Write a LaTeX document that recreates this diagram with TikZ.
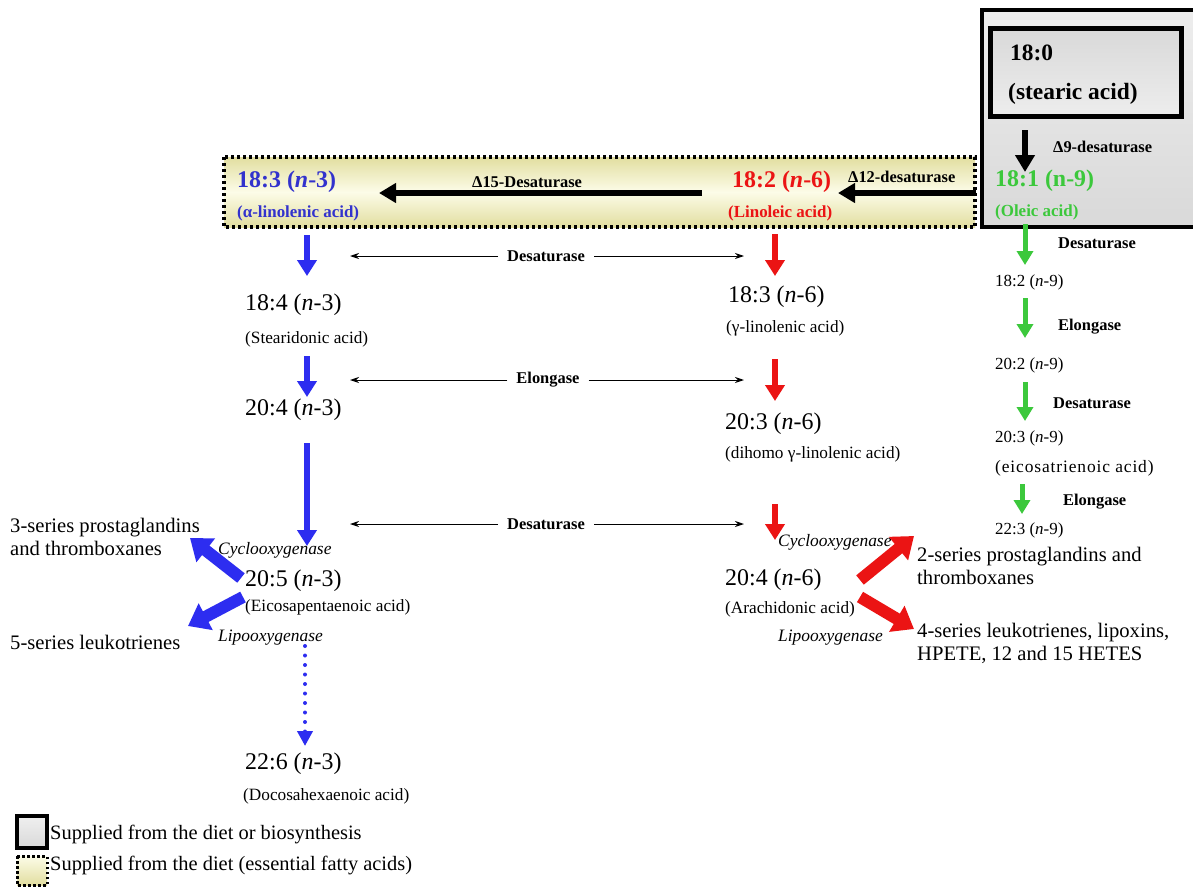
\documentclass[tikz,border=0pt]{standalone}
\usepackage{fontspec}
\setmainfont{Liberation Serif}
\usetikzlibrary{arrows.meta}
\definecolor{fblue}{RGB}{45,45,240}
\definecolor{tblue}{RGB}{50,50,205}
\definecolor{fred}{RGB}{235,20,20}
\definecolor{fgreen}{RGB}{60,200,60}
\definecolor{ykhaki}{RGB}{226,222,160}
\definecolor{ylight}{RGB}{252,252,232}
\newcommand\fsz[1]{\fontsize{#1}{#1}\selectfont}
\newcommand\fszl{\fontsize{20.7}{23}\selectfont}
\begin{document}
\begin{tikzpicture}[x=1bp,y=-1bp,
  big/.style={anchor=west,inner sep=0pt,font=\fsz{24}},
  sm/.style={anchor=west,inner sep=0pt,font=\fsz{17.3}},
  gsm/.style={anchor=west,inner sep=0pt,font=\fsz{17}},
  lab/.style={anchor=west,inner sep=0pt,font=\fsz{16.5}\bfseries},
  mlab/.style={anchor=center,inner xsep=9bp,inner ysep=0pt,font=\fsz{16.5}\bfseries},
  enz/.style={anchor=west,inner sep=0pt,font=\fsz{17.5}\itshape},
  prod/.style={anchor=west,inner sep=0pt,align=left,font=\fszl},
  topb/.style={anchor=west,inner sep=0pt,font=\fsz{24}\bfseries},
  tops/.style={anchor=west,inner sep=0pt,font=\fsz{17}\bfseries},
  colarrow/.style={line width=5.5bp,-{Triangle[length=16bp,width=19bp]}},
  garrow/.style={fgreen,line width=5bp,-{Triangle[length=14bp,width=16bp]}},
  fatarrow/.style={line width=12bp,-{Triangle[length=20bp,width=29bp]}},
  thinarrow/.style={line width=1bp,-{Stealth[length=9bp,width=6bp]}},
  blackarrow/.style={line width=6.5bp,-{Triangle[length=17bp,width=19bp]}}
]
\useasboundingbox (0,0) rectangle (1193,887);
\fill[white] (0,0) rectangle (1193,887);

% grey box (stearic acid)
\shade[top color=gray!14,bottom color=gray!30] (982,10) rectangle (1193,227);
\draw[line width=4bp] (1195,10) -- (982,10) -- (982,227) -- (1195,227);
\shade[top color=gray!30,bottom color=gray!14] (990,28) rectangle (1181,116);
\draw[line width=5bp] (990,28) rectangle (1181,116);
\node[topb,font=\fsz{23.5}\bfseries] (s180) at (1010,53) {18:0};
\node[topb,font=\fsz{23.5}\bfseries] (s180n) at (1008,94) {(stearic acid)};

% yellow box
\shade[top color=ykhaki,bottom color=ykhaki,middle color=ylight] (224,157) rectangle (975,227);
\draw[line width=3.5bp,dash pattern=on 3bp off 3bp] (224,157) rectangle (975,227);

\coordinate (d9a) at (1025,130);
\coordinate (d9b) at (1025,172);
\draw[blackarrow] (d9a) -- (d9b);
\node[lab] (d9) at (1053,147) {Δ9-desaturase};
\node[topb,fgreen] (o181) at (995,181) {18:1 (n-9)};
\node[tops,fgreen] (o181n) at (995,212) {(Oleic acid)};

\node[topb,tblue] (a183) at (237,182) {18:3 (\textit{n}-3)};
\node[tops,tblue] (a183n) at (237,213) {(α-linolenic acid)};
\node[topb,fred] (l182) at (732,182) {18:2 (\textit{n}-6)};
\node[tops,fred] (l182n) at (728,213) {(Linoleic acid)};
\node[lab] (d15) at (472,182) {Δ15-Desaturase};
\node[lab] (d12) at (848,177) {Δ12-desaturase};
\coordinate (d15a) at (702,193);
\coordinate (d15b) at (379,193);
\draw[blackarrow] (d15a) -- (d15b);
\coordinate (d12a) at (976,193);
\coordinate (d12b) at (838,193);
\draw[blackarrow] (d12a) -- (d12b);

% blue column
\coordinate (b1a) at (307,235); \coordinate (b1b) at (307,276);
\draw[colarrow,fblue] (b1a) -- (b1b);
\node[big] (b184) at (245,305) {18:4 (\textit{n}-3)};
\node[sm] (b184n) at (245,339) {(Stearidonic acid)};
\coordinate (b2a) at (307,356); \coordinate (b2b) at (307,397);
\draw[colarrow,fblue] (b2a) -- (b2b);
\node[big] (b204) at (245,410) {20:4 (\textit{n}-3)};
\coordinate (b3a) at (307,443); \coordinate (b3b) at (307,546);
\draw[colarrow,fblue] (b3a) -- (b3b);
\node[enz] (bcox) at (218,550) {Cyclooxygenase};
\node[big] (b205) at (245,581) {20:5 (\textit{n}-3)};
\node[sm] (b205n) at (245,607) {(Eicosapentaenoic acid)};
\node[enz] (blox) at (218,638) {Lipooxygenase};
\coordinate (b4a) at (305,646); \coordinate (b4b) at (305,746);
\draw[fblue,line width=4bp,line cap=round,dash pattern=on 0bp off 9.5bp,-{Triangle[length=15bp,width=15bp]}] (b4a) -- (b4b);
\node[big] (b226) at (245,764) {22:6 (\textit{n}-3)};
\node[sm] (b226n) at (243,796) {(Docosahexaenoic acid)};

\node[prod] (p3) at (10,537) {3-series prostaglandins\\and thromboxanes};
\node[prod] (l5) at (10,642) {5-series leukotrienes};
\coordinate (bf1a) at (241,578); \coordinate (bf1b) at (190,538);
\coordinate (bf2a) at (243,597); \coordinate (bf2b) at (188,626);
\draw[fatarrow,fblue] (bf1a) -- (bf1b);
\draw[fatarrow,fblue] (bf2a) -- (bf2b);

% red column
\coordinate (r1a) at (775,234); \coordinate (r1b) at (775,276);
\draw[colarrow,fred] (r1a) -- (r1b);
\node[big] (r183) at (728,297) {18:3 (\textit{n}-6)};
\node[sm] (r183n) at (726,328) {(γ-linolenic acid)};
\coordinate (r2a) at (775,359); \coordinate (r2b) at (775,401);
\draw[colarrow,fred] (r2a) -- (r2b);
\node[big] (r203) at (725,424) {20:3 (\textit{n}-6)};
\node[sm] (r203n) at (725,454) {(dihomo γ-linolenic acid)};
\coordinate (r3a) at (775,504); \coordinate (r3b) at (775,540);
\draw[colarrow,fred] (r3a) -- (r3b);
\node[enz] (rcox) at (778,542) {Cyclooxygenase};
\node[big] (r204) at (725,580) {20:4 (\textit{n}-6)};
\node[sm] (r204n) at (725,609) {(Arachidonic acid)};
\node[enz] (rlox) at (778,638) {Lipooxygenase};
\coordinate (rf1a) at (860,580); \coordinate (rf1b) at (914,536);
\coordinate (rf2a) at (860,597); \coordinate (rf2b) at (914,629);
\draw[fatarrow,fred] (rf1a) -- (rf1b);
\draw[fatarrow,fred] (rf2a) -- (rf2b);
\node[prod] (p2) at (917,566) {2-series prostaglandins and\\thromboxanes};
\node[prod] (l4) at (917,643) {4-series leukotrienes, lipoxins,\\HPETE, 12 and 15 HETES};

% middle double arrows
\node[mlab] (m1) at (546,256) {Desaturase};
\node[mlab] (m2) at (548,380) {Elongase};
\node[mlab] (m3) at (546,524) {Desaturase};
\coordinate (m1l) at (350,256); \coordinate (m1r) at (744,256);
\coordinate (m2l) at (350,380); \coordinate (m2r) at (744,380);
\coordinate (m3l) at (350,524); \coordinate (m3r) at (744,524);
\draw[thinarrow] (m1.west) -- (m1l);
\draw[thinarrow] (m1.east) -- (m1r);
\draw[thinarrow] (m2.west) -- (m2l);
\draw[thinarrow] (m2.east) -- (m2r);
\draw[thinarrow] (m3.west) -- (m3l);
\draw[thinarrow] (m3.east) -- (m3r);

% green column
\coordinate (g1a) at (1025,224); \coordinate (g1b) at (1025,265);
\draw[garrow] (g1a) -- (g1b);
\node[lab] (g1l) at (1058,243) {Desaturase};
\node[gsm] (g182) at (995,282) {18:2 (\textit{n}-9)};
\coordinate (g2a) at (1025,298); \coordinate (g2b) at (1025,338);
\draw[garrow] (g2a) -- (g2b);
\node[lab] (g2l) at (1058,327) {Elongase};
\node[gsm] (g202) at (995,365) {20:2 (\textit{n}-9)};
\coordinate (g3a) at (1025,382); \coordinate (g3b) at (1025,421);
\draw[garrow] (g3a) -- (g3b);
\node[lab] (g3l) at (1053,403) {Desaturase};
\node[gsm] (g203) at (995,438) {20:3 (\textit{n}-9)};
\node[gsm,font=\fsz{17.5}\addfontfeatures{LetterSpace=5}] (g203n) at (995,468) {(eicosatrienoic acid)};
\coordinate (g4a) at (1022,484); \coordinate (g4b) at (1022,514);
\draw[garrow] (g4a) -- (g4b);
\node[lab] (g4l) at (1063,502) {Elongase};
\node[gsm] (g223) at (995,530) {22:3 (\textit{n}-9)};

% legend
\shade[top color=gray!12,bottom color=gray!30] (17,816) rectangle (47,848);
\draw[line width=3.5bp] (17,816) rectangle (47,848);
\node[anchor=west,inner sep=0pt,font=\fsz{20.5}] (leg1) at (50,835) {Supplied from the diet or biosynthesis};
\shade[top color=ylight,bottom color=ykhaki] (17,856) rectangle (47,885);
\draw[line width=3bp,dash pattern=on 2.5bp off 2.5bp] (17,856) rectangle (47,885);
\node[anchor=west,inner sep=0pt,font=\fsz{20.5}] (leg2) at (50,866) {Supplied from the diet (essential fatty acids)};
\end{tikzpicture}
\end{document}
